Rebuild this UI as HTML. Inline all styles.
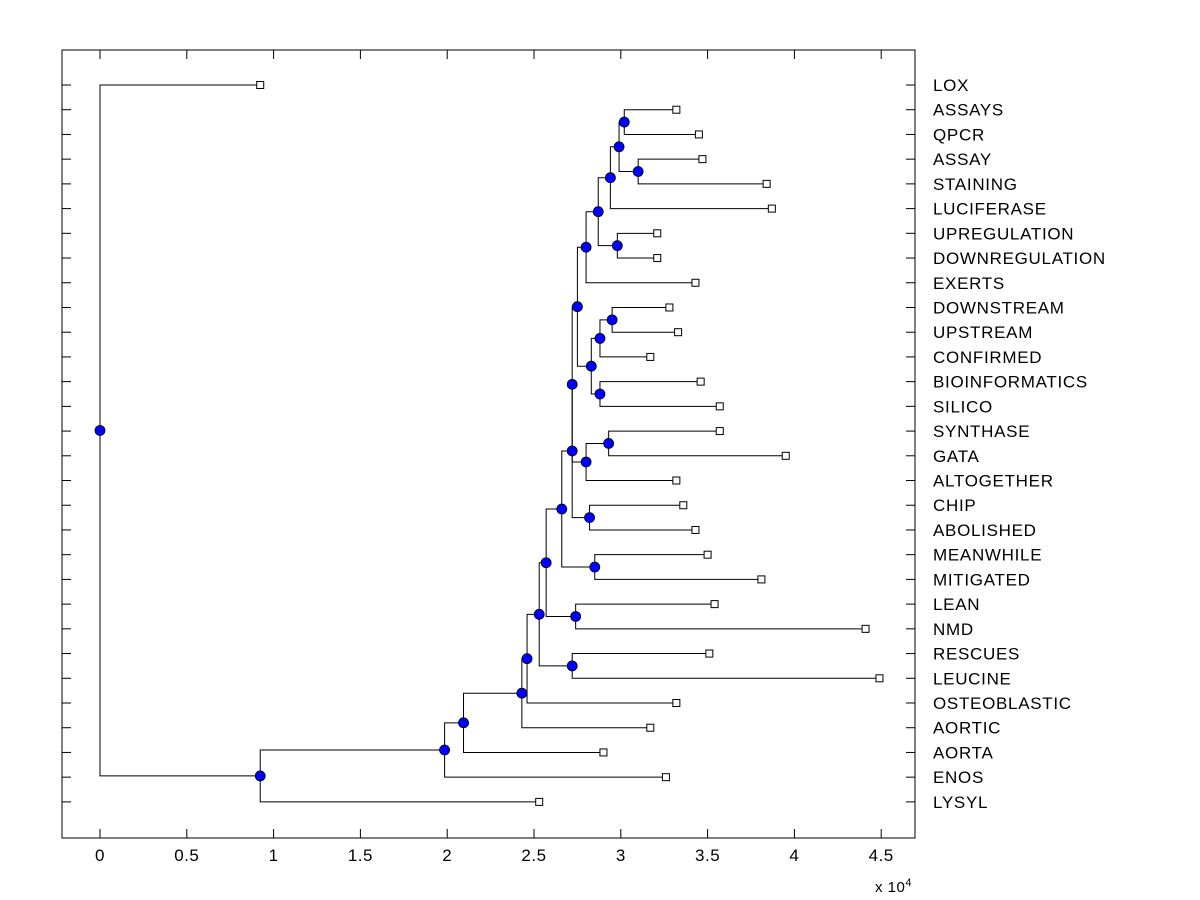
<!DOCTYPE html>
<html><head><meta charset="utf-8"><style>
html,body{margin:0;padding:0;background:#fff;}
svg{display:block;font-family:"Liberation Sans",Arial,sans-serif;}
</style></head><body>
<svg id="chart" width="1200" height="900">
<rect x="0" y="0" width="1200" height="900" fill="#fff"/>
<g id="links"></g>
<g id="nodes"></g>
<rect x="62" y="50" width="853" height="788" fill="none" stroke="#000" stroke-width="1"/>
<g id="axes"></g>
<text x="875" y="892" font-size="15" letter-spacing="0.5">x 10<tspan dy="-6" font-size="11">4</tspan></text>
</svg>
<script>
const leafLabels = ["LOX","ASSAYS","QPCR","ASSAY","STAINING","LUCIFERASE","UPREGULATION","DOWNREGULATION","EXERTS","DOWNSTREAM","UPSTREAM","CONFIRMED","BIOINFORMATICS","SILICO","SYNTHASE","GATA","ALTOGETHER","CHIP","ABOLISHED","MEANWHILE","MITIGATED","LEAN","NMD","RESCUES","LEUCINE","OSTEOBLASTIC","AORTIC","AORTA","ENOS","LYSYL"];
const leafValues = [0.923,3.32,3.45,3.47,3.84,3.87,3.21,3.21,3.43,3.28,3.33,3.17,3.46,3.57,3.57,3.95,3.32,3.36,3.43,3.50,3.81,3.54,4.41,3.51,4.49,3.32,3.17,2.90,3.26,2.53];
// internal nodes: [name, childA, childB, height]
const mergeNames = ["AB","AC","AA","Y","Z","X","S","W","U","V","T","P","R0","R","N","M","K","L","I","J","G","H","F","E","D","C","B","A","ROOT"];
const mergeLeft  = ["ASSAYS","ASSAY","AB","AA","UPREGULATION","Y","X","DOWNSTREAM","W","BIOINFORMATICS","U","S","SYNTHASE","R0","CHIP","P","M","MEANWHILE","K","LEAN","I","RESCUES","G","F","E","D","C","B","LOX"];
const mergeRight = ["QPCR","STAINING","AC","LUCIFERASE","DOWNREGULATION","Z","EXERTS","UPSTREAM","CONFIRMED","SILICO","V","T","GATA","ALTOGETHER","ABOLISHED","R","N","MITIGATED","L","NMD","J","LEUCINE","H","OSTEOBLASTIC","AORTIC","AORTA","ENOS","LYSYL","A"];
const mergeHeights = [3.02,3.10,2.99,2.94,2.98,2.87,2.80,2.95,2.88,2.88,2.83,2.75,2.93,2.80,2.82,2.72,2.72,2.85,2.66,2.74,2.57,2.72,2.53,2.46,2.43,2.094,1.985,0.923,0];
const xTicks = [0,0.5,1,1.5,2,2.5,3,3.5,4,4.5];
const xTickLabels = ["0","0.5","1","1.5","2","2.5","3","3.5","4","4.5"];

const NS="http://www.w3.org/2000/svg";
const X = v => 100 + v*173.6;
const Y = i => 85 + i*24.72;
function mk(tag, attrs, parent){const e=document.createElementNS(NS,tag);for(const k in attrs)e.setAttribute(k,attrs[k]);parent.appendChild(e);return e;}
const pos = {};
leafLabels.forEach((n,i)=>{pos[n]={x:X(leafValues[i]),y:Y(i)};});
const links=document.getElementById('links'), nodes=document.getElementById('nodes'), axes=document.getElementById('axes');
mergeNames.forEach((n,i)=>{
  const a=pos[mergeLeft[i]], b=pos[mergeRight[i]], x=X(mergeHeights[i]);
  pos[n]={x:x,y:(a.y+b.y)/2};
  const p=mk('path',{d:`M${a.x},${a.y}H${x}V${b.y}H${b.x}`,fill:'none',stroke:'#000','stroke-width':1},links);
  
  
});
mergeNames.forEach(n=>{
  const c=mk('circle',{cx:pos[n].x,cy:pos[n].y,r:5,fill:'#0000ff',stroke:'#000','stroke-width':0.8},nodes);
  
  
});
leafLabels.forEach((n,i)=>{
  const p=pos[n];
  const r=mk('rect',{x:p.x-3.5,y:p.y-3.5,width:7,height:7,fill:'#fff',stroke:'#000','stroke-width':1},nodes);
  
  
  mk('line',{x1:62,x2:71,y1:p.y,y2:p.y,stroke:'#000'},axes);
  mk('line',{x1:906,x2:915,y1:p.y,y2:p.y,stroke:'#000'},axes);
  const t=mk('text',{x:933,y:p.y+6,'font-size':17,'letter-spacing':0.7},axes);
  t.textContent=n;
  
  
});
xTicks.forEach((v,i)=>{
  const x=X(v);
  mk('line',{x1:x,x2:x,y1:829,y2:838,stroke:'#000'},axes);
  mk('line',{x1:x,x2:x,y1:50,y2:59,stroke:'#000'},axes);
  const t=mk('text',{x:x,y:861,'font-size':17,'letter-spacing':0.5,'text-anchor':'middle'},axes);
  t.textContent=xTickLabels[i];
  
  
});
</script>
</body></html>
